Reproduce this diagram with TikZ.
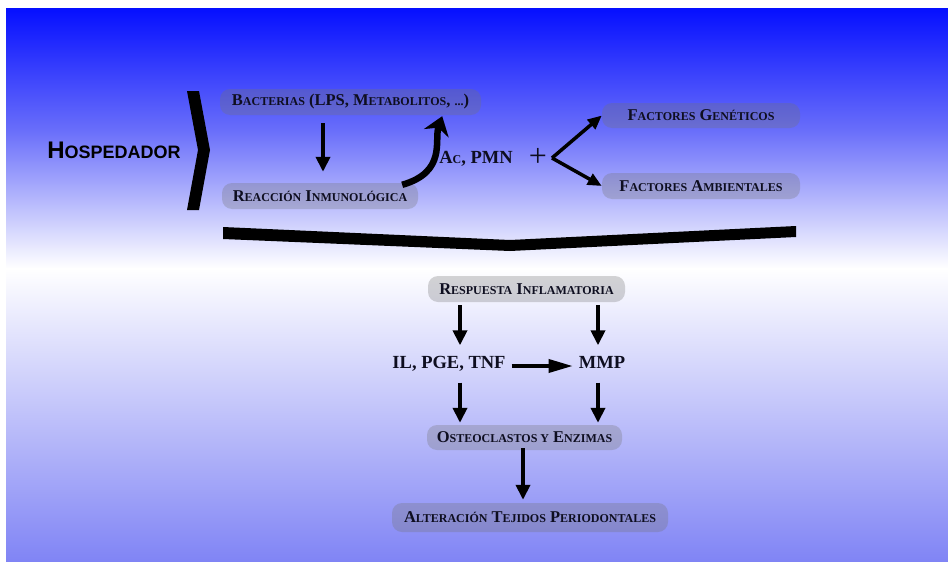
\documentclass[tikz,border=0pt]{standalone}
\usepackage{fontspec}
\setmainfont{Liberation Serif}
\newfontfamily\hfont{Liberation Sans}
\usepackage{tikz}
\usetikzlibrary{positioning, arrows.meta}
\definecolor{navy}{RGB}{14,14,32}
\definecolor{bgA}{RGB}{5,15,255}
\definecolor{bgB}{RGB}{105,110,250}
\definecolor{bgC}{RGB}{128,132,245}
\tikzset{Box/.style={draw=none, fill=black!55, fill opacity=0.3, text opacity=1,
    rounded corners=10pt, inner sep=0pt, text=navy,
    font=\bfseries\fontsize{16.5}{18}\selectfont}}
\tikzset{Txt/.style={inner sep=0pt, text=navy, text height=13pt, text depth=4pt,
    font=\bfseries\fontsize{18.5}{20}\selectfont}}
\tikzset{E/.style={draw, line width=4pt, -{Triangle[length=15pt,width=14pt]}}}
\tikzset{EH/.style={draw, line width=3.5pt, -{Triangle[length=24pt,width=13pt]}}}
\tikzset{F/.style={draw, line width=3.5pt, -{Triangle[length=14pt,width=12pt]}}}
\tikzset{C/.style={draw, line width=6.5pt, -{Stealth[length=18pt,width=26pt]}}}
\newcommand{\sm}[1]{{\fontsize{12}{14}\selectfont #1}}

\begin{document}
\begin{tikzpicture}[x=1pt, y=-1pt]
    \useasboundingbox (0,0) rectangle (948,562);

    %% Background
    \shade[top color=bgA, bottom color=bgB] (6,8) rectangle (948,130.5);
    \shade[top color=bgB, bottom color=white] (6,130) rectangle (948,268.5);
    \shade[top color=white, bottom color=bgC] (6,268) rectangle (948,562);

    %% Host
    \node (host) at (114,150) {\hfont\bfseries\fontsize{24}{26}\selectfont H\fontsize{18}{20}\selectfont OSPEDADOR};
    \fill (187,91) -- (199,91) -- (210,150) -- (199,210) -- (187,210) -- (198,150) -- cycle;

    \node[Box, minimum width=261pt, minimum height=26pt] (bact) at (350.5,102)
        {B\sm{ACTERIAS} (LPS, M\sm{ETABOLITOS}, \sm{...})};
    \node[Box, minimum width=196pt, minimum height=26pt] (reac) at (320,196)
        {R\sm{EACCIÓN} I\sm{NMUNOLÓGICA}};
    \node[Txt] (acpmn) at (476,159) {A\sm{C}, PMN};
    \node[inner sep=0pt, text=navy, font=\fontsize{32}{32}\selectfont] (plus) at (538,157) {+};
    \coordinate (fork) at (552,158);
    \node[Box, minimum width=198pt, minimum height=25pt] (genet) at (701,115.5)
        {F\sm{ACTORES} G\sm{ENÉTICOS}};
    \node[Box, minimum width=198pt, minimum height=26pt] (ambi) at (701,186)
        {F\sm{ACTORES} A\sm{MBIENTALES}};

    \coordinate (xa) at (323,0);
    \draw[E, shorten <=8pt, shorten >=11pt] (bact.south -| xa) -- (reac.north -| xa);
    \draw[C] ([xshift=-16pt, yshift=-2pt]reac.north east) .. controls (447,172) and (434,140) .. ([xshift=-39pt, yshift=-1pt]bact.south east);
    \draw[F] (fork) -- (genet.west);
    \draw[F] (fork) -- (ambi.west);

    %% Big chevron
    \fill (223,227) -- (510,240) -- (796,226) -- (796,237) -- (510,251) -- (223,239) -- cycle;

    %% Inflammatory response
    \node[Box, minimum width=197pt, minimum height=26pt] (resp) at (526.5,289)
        {R\sm{ESPUESTA} I\sm{NFLAMATORIA}};
    \node[Txt] (il) at (449,364) {IL, PGE, TNF};
    \node[Txt] (mmp) at (602,364) {MMP};
    \node[Box, minimum width=195pt, minimum height=25pt] (osteo) at (524.5,437.5)
        {O\sm{STEOCLASTOS Y} E\sm{NZIMAS}};
    \node[Box, minimum width=276pt, minimum height=29pt] (alter) at (530,517.5)
        {A\sm{LTERACIÓN} T\sm{EJIDOS} P\sm{ERIODONTALES}};

    \coordinate (xl) at (460,0);
    \coordinate (xr) at (598,0);
    \coordinate (xo) at (523,0);
    \draw[E, shorten <=3pt, shorten >=10pt] (resp.south -| xl) -- (il.north -| xl);
    \draw[E, shorten <=3pt, shorten >=10pt] (resp.south -| xr) -- (mmp.north -| xr);
    \draw[EH, shorten <=6pt, shorten >=6pt] ([yshift=-2pt]il.east) -- ([yshift=-2pt]mmp.west);
    \draw[E, shorten <=10pt, shorten >=2pt] (il.south -| xl) -- (osteo.north -| xl);
    \draw[E, shorten <=10pt, shorten >=2pt] (mmp.south -| xr) -- (osteo.north -| xr);
    \draw[E, shorten <=-2pt, shorten >=3pt] (osteo.south -| xo) -- (alter.north -| xo);

\end{tikzpicture}
\end{document}
